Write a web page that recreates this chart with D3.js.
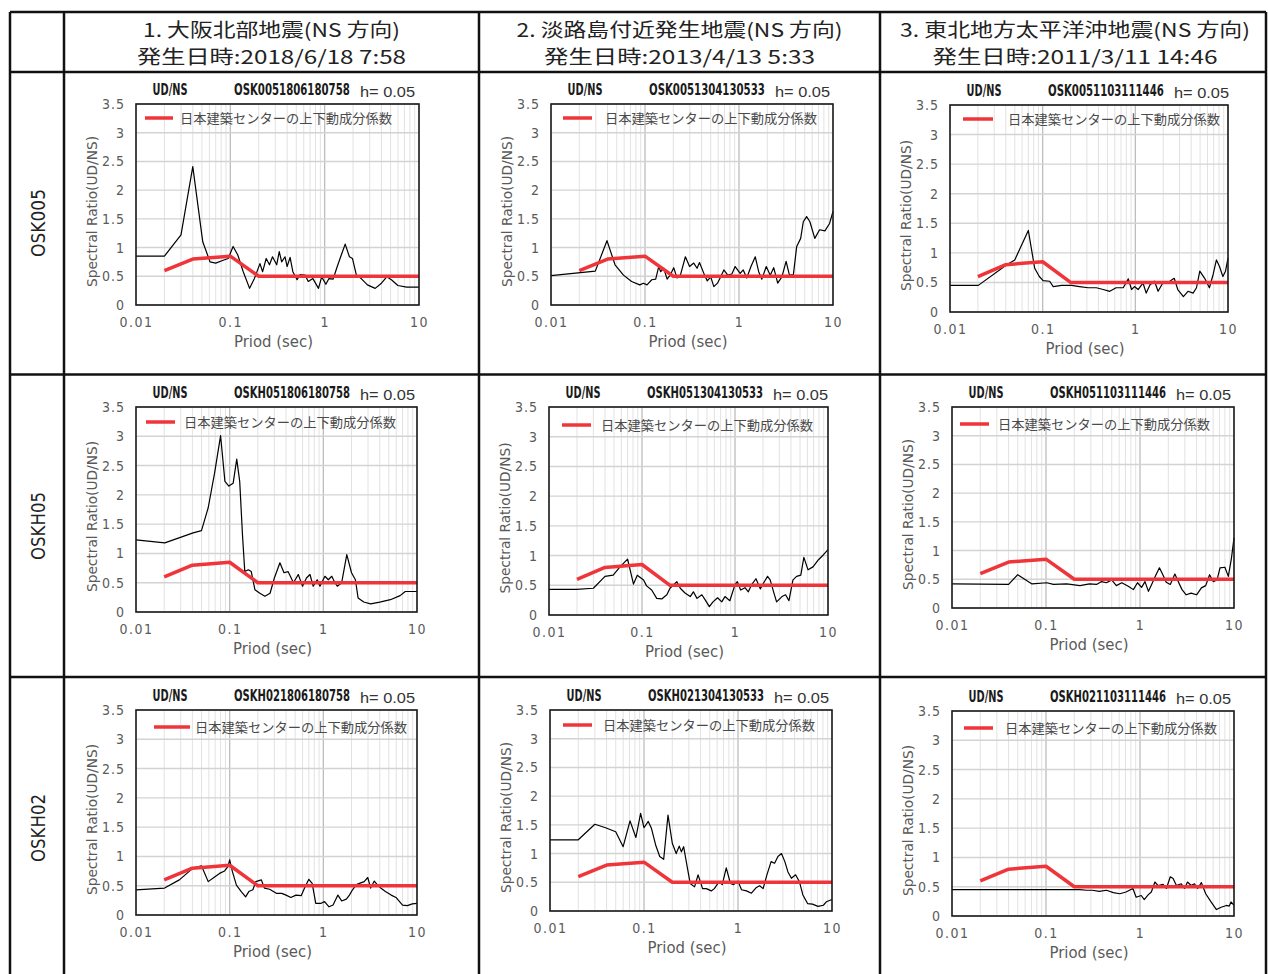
<!DOCTYPE html>
<html>
<head>
<meta charset="utf-8">
<script src="https://cdn.jsdelivr.net/npm/d3@7"></script>
<style>
  html, body { margin: 0; padding: 0; background: #fff; }
  svg { display: block; }
</style>
</head>
<body>
<svg id="chart" width="1268" height="974"></svg>
<script>
// ---- Table headings ----
const eventTitles = ["1. 大阪北部地震(NS 方向)", "2. 淡路島付近発生地震(NS 方向)", "3. 東北地方太平洋沖地震(NS 方向)"];
const eventDates = ["発生日時:2018/6/18 7:58", "発生日時:2013/4/13 5:33", "発生日時:2011/3/11  14:46"];
const stations = ["OSK005", "OSKH05", "OSKH02"];
const recordIds = [
  ["OSK0051806180758", "OSK0051304130533", "OSK0051103111446"],
  ["OSKH051806180758", "OSKH051304130533", "OSKH051103111446"],
  ["OSKH021806180758", "OSKH021304130533", "OSKH021103111446"]
];

// ---- Axis ticks ----
const ratioTicks = [0, 0.5, 1, 1.5, 2, 2.5, 3, 3.5];
const ratioTickLabels = ["0", "0.5", "1", "1.5", "2", "2.5", "3", "3.5"];
const periodTicks = [0.01, 0.1, 1, 10];
const periodTickLabels = ["0.01", "0.1", "1", "10"];

// ---- BCJ vertical coefficient (日本建築センターの上下動成分係数) ----
const bcjPeriod = [0.02, 0.04, 0.1, 0.2, 10];
const bcjRatio = [0.6, 0.8, 0.85, 0.5, 0.5];

// ---- Observed UD/NS spectral ratios, [period (s), ratio] ----
const osk005_2018 = [[0.01,0.85],[0.02,0.85],[0.03,1.22],[0.04,2.41],[0.051,1.10],[0.061,0.75],[0.07,0.73],[0.084,0.78],[0.095,0.81],[0.107,1.02],[0.12,0.87],[0.137,0.58],[0.16,0.29],[0.18,0.46],[0.206,0.72],[0.22,0.58],[0.24,0.81],[0.26,0.70],[0.28,0.84],[0.31,0.70],[0.33,0.93],[0.35,0.75],[0.38,0.84],[0.40,0.67],[0.43,0.83],[0.46,0.58],[0.51,0.44],[0.55,0.53],[0.62,0.52],[0.67,0.41],[0.75,0.46],[0.86,0.29],[0.93,0.49],[1.03,0.36],[1.11,0.46],[1.23,0.45],[1.34,0.64],[1.50,0.87],[1.65,1.06],[1.83,0.84],[1.97,0.81],[2.17,0.52],[2.44,0.46],[2.84,0.35],[3.43,0.29],[4.0,0.38],[4.55,0.49],[5.1,0.44],[5.97,0.34],[7.4,0.31],[10,0.31]];

const osk005_2013 = [[0.01,0.51],[0.0296,0.59],[0.0394,1.12],[0.048,0.70],[0.059,0.52],[0.072,0.41],[0.088,0.35],[0.096,0.38],[0.105,0.35],[0.118,0.44],[0.13,0.45],[0.14,0.67],[0.147,0.58],[0.158,0.64],[0.172,0.45],[0.185,0.52],[0.202,0.65],[0.219,0.47],[0.238,0.52],[0.269,0.84],[0.298,0.67],[0.33,0.73],[0.358,0.64],[0.38,0.74],[0.43,0.52],[0.46,0.42],[0.50,0.49],[0.54,0.32],[0.59,0.38],[0.63,0.47],[0.69,0.61],[0.76,0.52],[0.84,0.54],[0.91,0.67],[1.03,0.55],[1.11,0.61],[1.21,0.47],[1.34,0.67],[1.49,0.84],[1.62,0.58],[1.75,0.45],[1.95,0.67],[2.15,0.52],[2.34,0.65],[2.58,0.38],[2.86,0.49],[3.17,0.76],[3.44,0.52],[3.79,0.53],[4.11,1.02],[4.53,1.16],[4.83,1.45],[5.24,1.54],[5.68,1.45],[6.4,1.16],[7.2,1.31],[8.2,1.29],[9.2,1.42],[10,1.63]];

const osk005_2011 = [[0.01,0.45],[0.0202,0.45],[0.041,0.80],[0.05,0.88],[0.070,1.38],[0.082,0.74],[0.092,0.60],[0.101,0.53],[0.119,0.52],[0.13,0.43],[0.16,0.45],[0.205,0.45],[0.25,0.43],[0.31,0.41],[0.38,0.41],[0.45,0.38],[0.53,0.35],[0.62,0.41],[0.74,0.41],[0.84,0.56],[0.91,0.38],[0.98,0.43],[1.07,0.38],[1.21,0.49],[1.31,0.32],[1.44,0.46],[1.61,0.52],[1.76,0.35],[1.98,0.49],[2.35,0.52],[2.63,0.57],[2.87,0.38],[3.3,0.26],[3.7,0.35],[4.2,0.32],[4.57,0.41],[4.96,0.69],[5.6,0.57],[6.3,0.41],[6.9,0.63],[7.5,0.88],[8.1,0.77],[8.8,0.60],[9.4,0.69],[10,0.91]];

const oskh05_2018 = [[0.01,1.23],[0.0203,1.18],[0.0407,1.35],[0.05,1.39],[0.059,1.78],[0.069,2.37],[0.080,3.01],[0.089,2.23],[0.098,2.15],[0.109,2.20],[0.119,2.61],[0.128,2.23],[0.137,1.32],[0.145,0.69],[0.158,0.72],[0.17,0.69],[0.186,0.38],[0.21,0.32],[0.238,0.27],[0.27,0.32],[0.30,0.58],[0.344,0.84],[0.38,0.67],[0.42,0.69],[0.48,0.50],[0.54,0.64],[0.60,0.44],[0.66,0.58],[0.72,0.64],[0.78,0.44],[0.86,0.55],[0.92,0.44],[1.04,0.61],[1.13,0.55],[1.23,0.61],[1.33,0.50],[1.41,0.44],[1.57,0.50],[1.78,0.98],[2.0,0.67],[2.2,0.55],[2.35,0.24],[2.7,0.17],[3.2,0.14],[4.0,0.17],[5.2,0.21],[6.6,0.28],[7.5,0.35],[10,0.35]];

const oskh05_2013 = [[0.01,0.43],[0.0198,0.43],[0.03,0.45],[0.04,0.65],[0.049,0.67],[0.058,0.81],[0.070,0.94],[0.081,0.52],[0.089,0.67],[0.104,0.59],[0.112,0.49],[0.127,0.42],[0.144,0.28],[0.163,0.27],[0.185,0.34],[0.20,0.45],[0.237,0.56],[0.258,0.45],[0.29,0.37],[0.33,0.31],[0.357,0.39],[0.39,0.28],[0.44,0.34],[0.48,0.25],[0.53,0.14],[0.58,0.22],[0.65,0.29],[0.72,0.22],[0.78,0.31],[0.88,0.24],[1.0,0.51],[1.06,0.56],[1.15,0.42],[1.28,0.46],[1.39,0.39],[1.51,0.51],[1.68,0.61],[1.87,0.44],[2.05,0.55],[2.24,0.65],[2.39,0.59],[2.6,0.39],[2.8,0.22],[3.2,0.31],[3.5,0.34],[3.8,0.24],[4.2,0.59],[4.6,0.65],[5.1,0.67],[5.5,0.97],[6.1,0.76],[6.9,0.81],[7.9,0.93],[8.9,1.01],[10,1.10]];

const oskh05_2011 = [[0.01,0.42],[0.04,0.41],[0.05,0.58],[0.071,0.42],[0.102,0.44],[0.12,0.41],[0.166,0.42],[0.23,0.39],[0.29,0.42],[0.345,0.41],[0.39,0.46],[0.44,0.44],[0.50,0.49],[0.56,0.39],[0.64,0.44],[0.75,0.38],[0.85,0.32],[0.94,0.44],[1.04,0.36],[1.13,0.46],[1.23,0.29],[1.33,0.41],[1.48,0.58],[1.61,0.70],[1.75,0.58],[1.9,0.45],[2.1,0.41],[2.35,0.59],[2.57,0.45],[2.8,0.32],[3.1,0.23],[3.5,0.26],[4.0,0.23],[4.5,0.35],[5.0,0.39],[5.5,0.58],[6.0,0.46],[6.6,0.49],[7.1,0.70],[8.0,0.71],[8.7,0.55],[9.4,0.87],[10,1.22]];

const oskh02_2018 = [[0.01,0.43],[0.0202,0.46],[0.029,0.60],[0.0406,0.80],[0.05,0.84],[0.059,0.57],[0.069,0.65],[0.078,0.71],[0.088,0.75],[0.096,0.83],[0.10,0.94],[0.107,0.74],[0.118,0.51],[0.133,0.40],[0.148,0.31],[0.16,0.40],[0.177,0.43],[0.19,0.57],[0.218,0.60],[0.235,0.46],[0.267,0.44],[0.315,0.37],[0.36,0.37],[0.40,0.34],[0.45,0.30],[0.51,0.34],[0.58,0.33],[0.63,0.46],[0.70,0.61],[0.76,0.54],[0.83,0.20],[0.95,0.20],[1.03,0.23],[1.15,0.14],[1.27,0.17],[1.43,0.34],[1.57,0.24],[1.76,0.27],[1.9,0.34],[2.05,0.43],[2.25,0.52],[2.43,0.54],[2.73,0.57],[2.98,0.64],[3.2,0.46],[3.5,0.58],[3.8,0.51],[4.1,0.46],[4.6,0.40],[5.3,0.34],[5.97,0.30],[7.0,0.17],[7.9,0.16],[8.9,0.19],[10,0.20]];

const oskh02_2013 = [[0.01,1.24],[0.02,1.24],[0.030,1.51],[0.039,1.45],[0.050,1.38],[0.060,1.12],[0.071,1.57],[0.082,1.28],[0.092,1.70],[0.100,1.45],[0.111,1.56],[0.12,1.44],[0.133,1.15],[0.147,0.95],[0.162,0.90],[0.18,1.67],[0.20,1.18],[0.22,1.00],[0.237,1.13],[0.25,1.03],[0.264,1.12],[0.286,0.80],[0.31,0.48],[0.345,0.42],[0.376,0.63],[0.42,0.39],[0.46,0.39],[0.52,0.35],[0.56,0.39],[0.63,0.51],[0.68,0.46],[0.75,0.75],[0.83,0.48],[0.90,0.46],[1.0,0.52],[1.09,0.37],[1.23,0.35],[1.39,0.31],[1.57,0.41],[1.7,0.44],[1.85,0.39],[2.03,0.63],[2.25,0.86],[2.45,0.83],[2.66,0.95],[2.9,1.00],[3.15,0.86],[3.4,0.68],[3.7,0.57],[4.1,0.63],[4.5,0.51],[4.9,0.28],[5.5,0.13],[6.2,0.12],[7.1,0.08],[8.1,0.10],[8.7,0.16],[10,0.20]];

const oskh02_2011 = [[0.01,0.45],[0.228,0.45],[0.27,0.44],[0.31,0.44],[0.37,0.42],[0.44,0.44],[0.52,0.40],[0.61,0.38],[0.71,0.41],[0.84,0.47],[0.91,0.32],[1.03,0.35],[1.11,0.28],[1.22,0.36],[1.32,0.41],[1.44,0.58],[1.56,0.52],[1.76,0.54],[1.91,0.47],[2.1,0.67],[2.25,0.64],[2.44,0.52],[2.75,0.55],[2.98,0.47],[3.2,0.58],[3.5,0.52],[3.8,0.55],[4.1,0.47],[4.5,0.57],[5.0,0.38],[5.7,0.24],[6.5,0.11],[7.3,0.15],[8.3,0.18],[8.9,0.17],[9.3,0.24],[10,0.18]];

const panelSeries = [
  [osk005_2018, osk005_2013, osk005_2011],
  [oskh05_2018, oskh05_2013, oskh05_2011],
  [oskh02_2018, oskh02_2013, oskh02_2011]
];

// ---- Layout: table rules and plot frames ----
const table = { left: 10, right: 1266, top: 12, header: 72, labelCol: 64, cols: [479, 880], rows: [374.5, 677], bottom: 980 };
const colCenters = [271.5, 679.5, 1075];
const rowCenters = [223, 526, 828];
// plot frames [left, right, top, bottom]
const frames = [
  [[136, 419, 104, 305], [551, 833, 104, 305], [950, 1228, 105, 312]],
  [[136, 417, 407, 612], [549, 828, 407, 615], [952, 1234, 407, 608]],
  [[136, 417, 710, 915], [550, 832, 710, 911], [952, 1234, 711, 916]]
];
// legend placement [line start, line end, text start, y] relative to frame
const legendPos = [
  [[9, 37, 44, 14], [12, 41, 54, 14], [13, 43, 58, 14]],
  [[10, 39, 48, 15], [13, 42, 52, 18], [8, 37, 46, 17]],
  [[18, 54, 59, 17], [13, 42, 53, 15], [12, 41, 53, 17]]
];
const titleWidths = [257, 326, 350];
const dateWidths = [269, 271, 285];

const svg = d3.select("#chart");
svg.append("rect").attr("width", 1268).attr("height", 974).attr("fill", "#fff");

const jpFont = "'Noto Sans CJK JP', 'Noto Sans', sans-serif";
const narrowFont = "'Liberation Sans Narrow', 'DejaVu Sans Condensed', 'Roboto', sans-serif";
const axisFont = "'DejaVu Sans Condensed', 'Liberation Sans Narrow', sans-serif";

// Squeeze a text horizontally to a target width, scaling about its anchor.
function fitWidth(sel, x, y, width, rotate) {
  const natural = sel.node().getComputedTextLength();
  const sx = natural > 0 ? width / natural : 1;
  sel.attr("x", null).attr("y", null)
    .attr("transform", `translate(${x},${y})${rotate ? ` rotate(${rotate})` : ""} scale(${sx},1)`);
  return sel;
}

// ---- Column headings ----
eventTitles.forEach((t, i) => {
  svg.append("text").attr("x", colCenters[i]).attr("y", 37)
    .attr("text-anchor", "middle").attr("font-family", jpFont).attr("font-size", 19)
    .attr("fill", "#222").attr("textLength", titleWidths[i]).attr("lengthAdjust", "spacingAndGlyphs")
    .text(t);
  svg.append("text").attr("x", colCenters[i]).attr("y", 64)
    .attr("text-anchor", "middle").attr("font-family", jpFont).attr("font-size", 19)
    .attr("fill", "#222").attr("textLength", dateWidths[i]).attr("lengthAdjust", "spacingAndGlyphs")
    .text(eventDates[i]);
});

// ---- Row labels ----
stations.forEach((s, i) => {
  const t = svg.append("text")
    .attr("text-anchor", "middle").attr("dy", "0.36em")
    .attr("font-family", narrowFont).attr("font-size", 20).attr("fill", "#222")
    .text(s);
  fitWidth(t, 38, rowCenters[i], 68, -90);
});

// ---- Panels ----
const minorPeriods = [];
[0.01, 0.1, 1].forEach(dec => { for (let k = 1; k <= 9; k++) minorPeriods.push(+(dec * k).toPrecision(3)); });
minorPeriods.push(10);

function drawPanel(r, c) {
  const [L, R, T, B] = frames[r][c];
  const g = svg.append("g");
  const x = d3.scaleLog().domain([0.01, 10]).range([L, R]);
  const y = d3.scaleLinear().domain([0, 3.5]).range([B, T]);

  // grid
  g.append("g").selectAll("line").data(minorPeriods).join("line")
    .attr("x1", d => x(d)).attr("x2", d => x(d)).attr("y1", T).attr("y2", B)
    .attr("stroke", d => (d === 0.1 || d === 1) ? "#bdbdbd" : "#e2e2e2")
    .attr("stroke-width", d => (d === 0.1 || d === 1) ? 1.3 : 1);
  g.append("g").selectAll("line").data(ratioTicks).join("line")
    .attr("x1", L).attr("x2", R).attr("y1", d => y(d)).attr("y2", d => y(d))
    .attr("stroke", "#d3d3d3").attr("stroke-width", 1.4);

  // tick labels via d3 axes
  const yAxis = d3.axisLeft(y).tickValues(ratioTicks).tickSize(0).tickPadding(11)
    .tickFormat((d, i) => ratioTickLabels[i]);
  const ya = g.append("g").attr("transform", `translate(${L},0)`).call(yAxis);
  ya.select(".domain").remove();
  ya.selectAll("text").attr("font-family", axisFont).attr("font-size", 14).attr("fill", "#5a5a5a")
    .attr("letter-spacing", 1);

  const xAxis = d3.axisBottom(x).tickValues(periodTicks).tickSize(0).tickPadding(12)
    .tickFormat((d, i) => periodTickLabels[i]);
  const xa = g.append("g").attr("transform", `translate(0,${B})`).call(xAxis);
  xa.select(".domain").remove();
  xa.selectAll("text").attr("font-family", axisFont).attr("font-size", 14).attr("fill", "#5a5a5a")
    .attr("letter-spacing", 1.5);

  // axis titles
  g.append("text").attr("transform", `translate(${L - 44},${(T + B) / 2 + 7}) rotate(-90)`)
    .attr("text-anchor", "middle").attr("dy", "0.35em")
    .attr("font-family", axisFont).attr("font-size", 14).attr("fill", "#5a5a5a")
    .attr("textLength", 151).attr("lengthAdjust", "spacingAndGlyphs")
    .text("Spectral Ratio(UD/NS)");
  g.append("text").attr("x", (L + R) / 2 - 4).attr("y", B + 42)
    .attr("text-anchor", "middle").attr("font-family", axisFont).attr("font-size", 15)
    .attr("fill", "#5a5a5a").attr("textLength", 79).attr("lengthAdjust", "spacingAndGlyphs")
    .text("Priod (sec)");

  // chart title line
  const ud = g.append("text").attr("text-anchor", "middle")
    .attr("font-family", narrowFont).attr("font-size", 15).attr("font-weight", "bold").attr("fill", "#1a1a1a")
    .text("UD/NS");
  fitWidth(ud, L + 34, T - 9, 35);
  const rid = g.append("text")
    .attr("font-family", narrowFont).attr("font-size", 15).attr("font-weight", "bold").attr("fill", "#1a1a1a")
    .text(recordIds[r][c]);
  fitWidth(rid, L + 98, T - 9, 116);
  g.append("text").attr("x", L + 224).attr("y", T - 7)
    .attr("font-family", "'Liberation Sans', Arial, sans-serif").attr("font-size", 15).attr("fill", "#333")
    .attr("textLength", 55).attr("lengthAdjust", "spacingAndGlyphs").text("h= 0.05");

  // observed ratio
  const line = d3.line().x(d => x(d[0])).y(d => y(d[1]));
  g.append("path").datum(panelSeries[r][c]).attr("d", line)
    .attr("fill", "none").attr("stroke", "#000").attr("stroke-width", 1.2).attr("stroke-linejoin", "round");

  // BCJ coefficient
  const bcj = bcjPeriod.map((p, i) => [p, bcjRatio[i]]);
  g.append("path").datum(bcj).attr("d", line)
    .attr("fill", "none").attr("stroke", "#f0353a").attr("stroke-width", 3.5).attr("stroke-linejoin", "round");

  // legend
  const [l0, l1, tx, ly] = legendPos[r][c];
  g.append("line").attr("x1", L + l0).attr("x2", L + l1).attr("y1", T + ly).attr("y2", T + ly)
    .attr("stroke", "#f0353a").attr("stroke-width", 3.5);
  g.append("text").attr("x", L + tx).attr("y", T + ly + 5)
    .attr("font-family", jpFont).attr("font-size", 13).attr("fill", "#4a4a4a")
    .attr("textLength", 212).attr("lengthAdjust", "spacingAndGlyphs")
    .text("日本建築センターの上下動成分係数");

  // frame
  g.append("rect").attr("x", L).attr("y", T).attr("width", R - L).attr("height", B - T)
    .attr("fill", "none").attr("stroke", "#1a1a1a").attr("stroke-width", 1.6);
}

for (let r = 0; r < 3; r++) for (let c = 0; c < 3; c++) drawPanel(r, c);

// ---- Table rules ----
const rules = svg.append("g").attr("stroke", "#111").attr("stroke-width", 2.5);
rules.append("line").attr("x1", table.left).attr("x2", table.right).attr("y1", table.top).attr("y2", table.top);
rules.append("line").attr("x1", table.left).attr("x2", table.right).attr("y1", table.header).attr("y2", table.header);
table.rows.forEach(yv => rules.append("line").attr("x1", table.left).attr("x2", table.right).attr("y1", yv).attr("y2", yv));
[table.left, table.labelCol, ...table.cols, table.right].forEach(xv =>
  rules.append("line").attr("x1", xv).attr("x2", xv).attr("y1", table.top).attr("y2", table.bottom));
</script>
</body>
</html>
